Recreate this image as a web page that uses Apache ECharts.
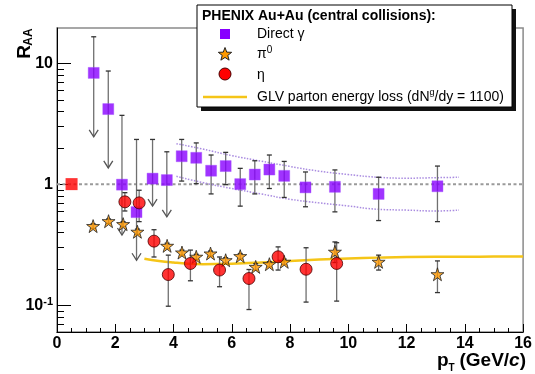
<!DOCTYPE html>
<html><head><meta charset="utf-8">
<script src="https://cdn.jsdelivr.net/npm/echarts@6/dist/echarts.min.js"></script>
<style>html,body{margin:0;padding:0;background:#fff}#c{width:535px;height:374px}</style>
</head><body><div id="c"></div>
<script>
const FONT = '"Liberation Sans", Arial, Helvetica, sans-serif';

// ---- data ----
const gammaPt = [1.26, 1.76, 2.23, 2.73, 3.28, 3.77, 4.28, 4.78, 5.29, 5.79, 6.29, 6.79, 7.29, 7.8, 8.53, 9.54, 11.04, 13.06];
const gammaR  = [8.3, 4.17, 0.99, 0.587, 1.11, 1.08, 1.70, 1.65, 1.29, 1.41, 1.0, 1.2, 1.32, 1.17, 0.94, 0.95, 0.83, 0.96];
const gammaHi = [16.5, 8.6, 3.7, 2.34, 2.34, 1.85, 2.34, 2.19, 1.74, 1.83, 1.35, 1.56, 1.74, 1.54, 1.26, 1.31, 1.14, 1.41];
const gammaLo = [2.46, 1.36, 0.38, 0.235, 0.658, 0.537, 1.06, 1.01, 0.83, 0.99, 0.658, 0.83, 0.92, 0.776, 0.65, 0.59, 0.50, 0.49];
const gammaUpperLimit = [1, 1, 1, 1, 1, 1, 0, 0, 0, 0, 0, 0, 0, 0, 0, 0, 0, 0];

const pi0Pt = [1.24, 1.77, 2.27, 2.76, 3.78, 4.29, 4.78, 5.27, 5.79, 6.29, 6.82, 7.29, 7.8, 9.54, 11.04, 13.06];
const pi0R  = [0.45, 0.494, 0.467, 0.404, 0.309, 0.272, 0.251, 0.267, 0.235, 0.254, 0.207, 0.218, 0.228, 0.276, 0.228, 0.18];
const pi0Hi = [0.47, 0.515, 0.49, 0.425, 0.325, 0.285, 0.263, 0.28, 0.247, 0.267, 0.22, 0.229, 0.24, 0.333, 0.259, 0.232];
const pi0Lo = [0.43, 0.473, 0.445, 0.384, 0.293, 0.259, 0.239, 0.254, 0.223, 0.241, 0.195, 0.207, 0.217, 0.225, 0.195, 0.127];

const etaPt = [2.33, 2.82, 3.33, 3.82, 4.58, 5.58, 6.59, 7.59, 8.55, 9.6];
const etaR  = [0.714, 0.70, 0.338, 0.179, 0.221, 0.195, 0.166, 0.251, 0.198, 0.221];
const etaHi = [0.85, 0.89, 0.42, 0.259, 0.285, 0.25, 0.197, 0.303, 0.298, 0.328];
const etaLo = [0.60, 0.49, 0.25, 0.098, 0.159, 0.142, 0.092, 0.195, 0.106, 0.108];

const glvPt = [3.0, 3.5, 4.0, 4.5, 5.0, 6.0, 7.0, 8.0, 9.0, 10.0, 11.0, 12.0, 13.0, 14.0, 15.0, 16.0];
const glvR  = [0.242, 0.232, 0.225, 0.22, 0.218, 0.22, 0.225, 0.232, 0.238, 0.243, 0.247, 0.25, 0.251, 0.251, 0.252, 0.252];

const bandPt = [4.1, 5, 6, 7, 8, 9, 10, 11, 12, 13, 13.8];
const bandHi = [2.16, 1.95, 1.72, 1.55, 1.40, 1.28, 1.20, 1.14, 1.12, 1.13, 1.14];
const bandLo = [1.16, 1.03, 0.92, 0.83, 0.75, 0.70, 0.66, 0.62, 0.61, 0.60, 0.61];

const normPt = [0.5];
const normR  = [1.0];

const unityPt = [0, 16];
const unityR  = [1, 1];

const yMinorTicks = [0.07, 0.08, 0.09, 0.2, 0.3, 0.4, 0.5, 0.6, 0.7, 0.8, 0.9, 2, 3, 4, 5, 6, 7, 8, 9];

// ---- helpers ----
const zip = (a, b) => a.map((v, i) => [v, b[i]]);
const STAR = 'path://M50,0 L61.2,34.5 L97.6,34.5 L68.2,55.9 L79.4,90.5 L50,69.1 L20.6,90.5 L31.8,55.9 L2.4,34.5 L38.8,34.5 Z';

function errorBars(pt, lo, hi, lim, z) {
  return {
    type: 'custom', coordinateSystem: 'cartesian2d', z: z, silent: true, animation: false,
    data: pt.map((x, i) => [x, lo[i], hi[i], lim ? lim[i] : 0]),
    encode: { x: 0, y: [1, 2] },
    renderItem: function (params, api) {
      const x = api.value(0);
      const top = api.coord([x, api.value(2)]);
      const bot = api.coord([x, api.value(1)]);
      const arrow = api.value(3) === 1;
      const c = [];
      c.push({ type: 'line', shape: { x1: top[0], y1: top[1], x2: bot[0], y2: bot[1] }, style: { stroke: '#707070', lineWidth: 1.3 } });
      c.push({ type: 'line', shape: { x1: top[0] - 2.5, y1: top[1], x2: top[0] + 2.5, y2: top[1] }, style: { stroke: '#333', lineWidth: 1.3 } });
      if (arrow) {
        c.push({ type: 'polyline', shape: { points: [[bot[0] - 4.5, bot[1] - 7], [bot[0], bot[1]], [bot[0] + 4.5, bot[1] - 7]] }, style: { stroke: '#555', fill: null, lineWidth: 1.3 } });
      } else {
        c.push({ type: 'line', shape: { x1: bot[0] - 2.5, y1: bot[1], x2: bot[0] + 2.5, y2: bot[1] }, style: { stroke: '#333', lineWidth: 1.3 } });
      }
      return { type: 'group', children: c };
    }
  };
}

function starPoints(cx, cy, r) {
  const pts = [];
  for (let i = 0; i < 10; i++) {
    const rr = i % 2 === 0 ? r : r * 0.42;
    const a = -Math.PI / 2 + i * Math.PI / 5;
    pts.push([cx + rr * Math.cos(a), cy + rr * Math.sin(a)]);
  }
  return pts;
}

const chart = echarts.init(document.getElementById('c'));

const option = {
  animation: false,
  backgroundColor: '#fff',
  grid: { left: 57, right: 10, top: 28, bottom: 42, show: true, borderColor: '#8a8a8a', borderWidth: 1.5, backgroundColor: 'transparent' },
  xAxis: {
    type: 'value', min: 0, max: 16, interval: 2,
    axisLine: { lineStyle: { color: '#000', width: 1 } },
    axisTick: { inside: true, length: 8, lineStyle: { color: '#000', width: 1 } },
    minorTick: { show: true, splitNumber: 4, length: 4, lineStyle: { color: '#000', width: 1 } },
    splitLine: { show: false },
    axisLabel: { fontFamily: FONT, fontWeight: 'bold', fontSize: 16, color: '#000', margin: 4 }
  },
  yAxis: {
    type: 'log', logBase: 10, min: 0.06, max: 19.5,
    axisLine: { show: true, lineStyle: { color: '#000', width: 1 } },
    axisTick: { show: true, inside: true, length: 14, lineStyle: { color: '#000', width: 1 } },
    splitLine: { show: false },
    minorTick: { show: false },
    axisLabel: {
      showMinLabel: false, showMaxLabel: false, margin: 4,
      fontFamily: FONT, fontWeight: 'bold', fontSize: 16, color: '#000',
      formatter: function (v) {
        const e = Math.round(Math.log10(v));
        if (e === 0) return '{b|1}';
        if (e === 1) return '{b|10}';
        return '{b|10}{sup|' + e + '}';
      },
      rich: {
        b: { fontFamily: FONT, fontWeight: 'bold', fontSize: 16, color: '#000', lineHeight: 18 },
        sup: { fontFamily: FONT, fontWeight: 'bold', fontSize: 11, color: '#000', verticalAlign: 'top', lineHeight: 18 }
      }
    }
  },
  series: [
    { type: 'custom', coordinateSystem: 'cartesian2d', silent: true, z: 3,
      data: yMinorTicks.map(v => [0, v]),
      renderItem: function (params, api) {
        const p = api.coord([0, api.value(1)]);
        return { type: 'line', shape: { x1: p[0], y1: Math.round(p[1]) + 0.5, x2: p[0] + 7, y2: Math.round(p[1]) + 0.5 }, style: { stroke: '#000', lineWidth: 1 } };
      }
    },
    { name: 'unity', type: 'line', data: zip(unityPt, unityR), symbol: 'none', z: 2, silent: true,
      lineStyle: { color: '#9a9a9a', width: 2, type: [3, 2.5] } },
    { name: 'band hi', type: 'line', data: zip(bandPt, bandHi), symbol: 'none', smooth: true, z: 2, silent: true,
      lineStyle: { color: '#a98be0', width: 1.5, type: [1.5, 1.5] } },
    { name: 'band lo', type: 'line', data: zip(bandPt, bandLo), symbol: 'none', smooth: true, z: 2, silent: true,
      lineStyle: { color: '#a98be0', width: 1.5, type: [1.5, 1.5] } },
    { name: 'GLV', type: 'line', data: zip(glvPt, glvR), symbol: 'none', smooth: true, z: 3, silent: true,
      lineStyle: { color: '#f5c518', width: 2.5 } },
    errorBars(gammaPt, gammaLo, gammaHi, gammaUpperLimit, 4),
    errorBars(pi0Pt, pi0Lo, pi0Hi, null, 4),
    errorBars(etaPt, etaLo, etaHi, null, 4),
    { name: 'norm', type: 'scatter', data: zip(normPt, normR), symbol: 'rect', symbolSize: 12, z: 5,
      itemStyle: { color: '#ff0000' } },
    { name: 'Direct γ', type: 'scatter', data: zip(gammaPt, gammaR), symbol: 'rect', symbolSize: 11, z: 5,
      itemStyle: { color: '#8800ff', borderColor: '#a050ff', borderWidth: 0.5 } },
    { name: 'π0', type: 'scatter', data: zip(pi0Pt, pi0R), symbol: STAR, symbolSize: 13, z: 6,
      itemStyle: { color: '#ff9900', borderColor: '#222', borderWidth: 1 } },
    { name: 'η', type: 'scatter', data: zip(etaPt, etaR), symbol: 'circle', symbolSize: 12, z: 7,
      itemStyle: { color: '#ff0000', borderColor: '#4a0000', borderWidth: 1 } }
  ],
  graphic: [
    // legend box with shadow
    { type: 'rect', z: 100, shape: { x: 201, y: 9, width: 315, height: 102 }, style: { fill: '#111' } },
    { type: 'rect', z: 101, shape: { x: 197, y: 5, width: 315, height: 102 }, style: { fill: '#fff', stroke: '#000', lineWidth: 1 } },
    { type: 'text', z: 102, x: 202, y: 16, style: { text: 'PHENIX Au+Au (central collisions):', font: 'bold 14px ' + FONT, fill: '#000', textVerticalAlign: 'middle' } },
    { type: 'rect', z: 102, shape: { x: 220, y: 29, width: 10, height: 10 }, style: { fill: '#8800ff' } },
    { type: 'text', z: 102, x: 257, y: 34, style: { text: 'Direct γ', font: '14px ' + FONT, fill: '#000', textVerticalAlign: 'middle' } },
    { type: 'polygon', z: 102, shape: { points: starPoints(225, 54.5, 7) }, style: { fill: '#ff9900', stroke: '#222', lineWidth: 1 } },
    { type: 'text', z: 102, x: 257, y: 54, style: { text: '{a|π}{s|0}', font: '14px ' + FONT, fill: '#000', textVerticalAlign: 'middle',
      rich: { a: { fontFamily: FONT, fontSize: 14, lineHeight: 18 }, s: { fontFamily: FONT, fontSize: 10, verticalAlign: 'top', lineHeight: 18 } } } },
    { type: 'circle', z: 102, shape: { cx: 225, cy: 74, r: 6 }, style: { fill: '#ff0000', stroke: '#4a0000', lineWidth: 1 } },
    { type: 'text', z: 102, x: 257, y: 75, style: { text: 'η', font: '14px ' + FONT, fill: '#000', textVerticalAlign: 'middle' } },
    { type: 'line', z: 102, shape: { x1: 203, y1: 97, x2: 247, y2: 97 }, style: { stroke: '#f5c518', lineWidth: 2.5 } },
    { type: 'text', z: 102, x: 257, y: 97, style: { text: '{a|GLV parton energy loss (dN}{s|g}{a|/dy = 1100)}', font: '14px ' + FONT, fill: '#000', textVerticalAlign: 'middle',
      rich: { a: { fontFamily: FONT, fontSize: 14, lineHeight: 18 }, s: { fontFamily: FONT, fontSize: 9, verticalAlign: 'top', lineHeight: 18 } } } },
    // y axis title R_AA (rotated)
    { type: 'text', z: 50, x: 25, y: 52, rotation: Math.PI / 2, style: { text: 'R', font: 'bold 19px ' + FONT, fill: '#000', textAlign: 'center', textVerticalAlign: 'middle' } },
    { type: 'text', z: 50, x: 29, y: 37, rotation: Math.PI / 2, style: { text: 'AA', font: 'bold 12px ' + FONT, fill: '#000', textAlign: 'center', textVerticalAlign: 'middle' } },
    // x axis title p_T (GeV/c)
    { type: 'text', z: 50, x: 437, y: 361, style: { text: 'p', font: 'bold 19px ' + FONT, fill: '#000', textVerticalAlign: 'middle' } },
    { type: 'text', z: 50, x: 448.5, y: 368, style: { text: 'T', font: 'bold 10px ' + FONT, fill: '#000', textVerticalAlign: 'middle' } },
    { type: 'text', z: 50, x: 526, y: 361, style: { text: '{a|(GeV/}{i|c}{a|)}', textAlign: 'right', textVerticalAlign: 'middle',
      rich: { a: { fontFamily: FONT, fontWeight: 'bold', fontSize: 19, color: '#000' }, i: { fontFamily: FONT, fontWeight: 'bold', fontStyle: 'italic', fontSize: 19, color: '#000' } } } }
  ]
};
chart.setOption(option);
</script>
</body></html>
